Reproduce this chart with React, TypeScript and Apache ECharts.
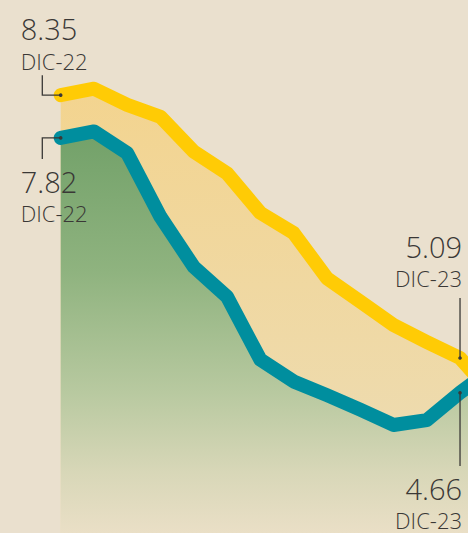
import React, { useEffect, useRef } from "react";
import * as echarts from "echarts";

const months = ["DIC-22", "ENE-23", "FEB-23", "MAR-23", "ABR-23", "MAY-23", "JUN-23", "JUL-23", "AGO-23", "SEP-23", "OCT-23", "NOV-23", "DIC-23", "ENE-24"];
const upper = [8.35, 8.43, 8.23, 8.08, 7.65, 7.38, 6.89, 6.64, 6.08, 5.79, 5.5, 5.29, 5.09, 4.63];
const lower = [7.82, 7.9, 7.63, 6.84, 6.22, 5.85, 5.07, 4.8, 4.63, 4.45, 4.26, 4.32, 4.66, 4.97];
const firstIdx = 0;
const lastIdx = 12;

const BG = "#EAE0CE";
const TEXT = "#3a3836";
const FONT = "'Open Sans', Lato, sans-serif";

export default function App() {
  const ref = useRef<HTMLDivElement>(null);
  useEffect(() => {
    document.body.style.margin = "0";
    const chart = echarts.init(ref.current!, undefined, { renderer: "svg" });
    chart.setOption({
      animation: false,
      backgroundColor: BG,
      grid: { left: 60.7, right: 6.7, top: 0, bottom: 0, containLabel: false },
      xAxis: { type: "category", data: months, boundaryGap: false, show: false },
      yAxis: { type: "value", min: 2.92, max: 9.53, show: false },
      series: [
        {
          type: "line",
          data: upper,
          symbol: "none",
          z: 2,
          lineStyle: { color: "#FFCB05", width: 14, cap: "round", join: "round" },
          areaStyle: {
            origin: "start",
            opacity: 1,
            color: new echarts.graphic.LinearGradient(0, 0, 0, 1, [
              { offset: 0, color: "#F3D48F" },
              { offset: 1, color: "#ECDDB8" },
            ]),
          },
        },
        {
          type: "line",
          data: lower,
          symbol: "none",
          z: 3,
          lineStyle: { color: "#008E9E", width: 14, cap: "round", join: "round" },
          areaStyle: {
            origin: "start",
            opacity: 1,
            color: new echarts.graphic.LinearGradient(0, 0, 0, 1, [
              { offset: 0, color: "#72A169" },
              { offset: 0.35, color: "#8FB37F" },
              { offset: 0.65, color: "#B8C9A0" },
              { offset: 0.85, color: "#D8D7B8" },
              { offset: 1, color: "#EADFC6" },
            ]),
          },
        },
      ],
    });

    const px = (s: number, i: number, v: number) => chart.convertToPixel({ seriesIndex: s }, [i, v]) as number[];
    const a = px(0, firstIdx, upper[firstIdx]);
    const b = px(1, firstIdx, lower[firstIdx]);
    const c = px(0, lastIdx, upper[lastIdx]);
    const d = px(1, lastIdx, lower[lastIdx]);

    const lineStyle = { stroke: TEXT, lineWidth: 1.3, fill: null };
    const big = (text: string, x: number, y: number, align: string) => ({
      type: "text", x, y, z: 10,
      style: { text, fill: TEXT, font: `300 29px ${FONT}`, lineHeight: 29, align, verticalAlign: "middle" },
    });
    const small = (text: string, x: number, y: number, align: string) => ({
      type: "text", x, y, z: 10,
      style: { text, fill: TEXT, font: `300 22px ${FONT}`, lineHeight: 22, align, verticalAlign: "middle" },
    });
    const dot = (p: number[]) => ({ type: "circle", z: 10, shape: { cx: p[0], cy: p[1], r: 1.8 }, style: { fill: TEXT } });

    chart.setOption({
      graphic: [
        { type: "polyline", z: 10, shape: { points: [[a[0], a[1]], [a[0] - 18.4, a[1]], [a[0] - 18.4, a[1] - 20]] }, style: lineStyle },
        dot(a),
        big(upper[firstIdx].toFixed(2), a[0] - 40, a[1] - 66.2, "left"),
        small(months[firstIdx], a[0] - 40, a[1] - 33.8, "left"),

        { type: "polyline", z: 10, shape: { points: [[b[0], b[1]], [b[0] - 18.4, b[1]], [b[0] - 18.4, b[1] + 21]] }, style: lineStyle },
        dot(b),
        big(lower[firstIdx].toFixed(2), b[0] - 40, b[1] + 43.4, "left"),
        small(months[firstIdx], b[0] - 40, b[1] + 75.5, "left"),

        { type: "line", z: 10, shape: { x1: c[0], y1: c[1], x2: c[0], y2: c[1] - 60 }, style: lineStyle },
        dot(c),
        big(upper[lastIdx].toFixed(2), c[0] + 2, c[1] - 111.8, "right"),
        small(months[lastIdx], c[0] + 2, c[1] - 79.7, "right"),

        { type: "line", z: 10, shape: { x1: d[0], y1: d[1], x2: d[0], y2: d[1] + 73.3 }, style: lineStyle },
        dot(d),
        big(lower[lastIdx].toFixed(2), d[0] + 2, d[1] + 96.3, "right"),
        small(months[lastIdx], d[0] + 2, d[1] + 127, "right"),
      ],
    });
    return () => chart.dispose();
  }, []);
  return (
    <div style={{ position: "fixed", left: 0, top: 0, width: 468, height: 533, overflow: "hidden", background: BG }}>
      <div ref={ref} style={{ width: 500, height: 533 }} />
    </div>
  );
}
